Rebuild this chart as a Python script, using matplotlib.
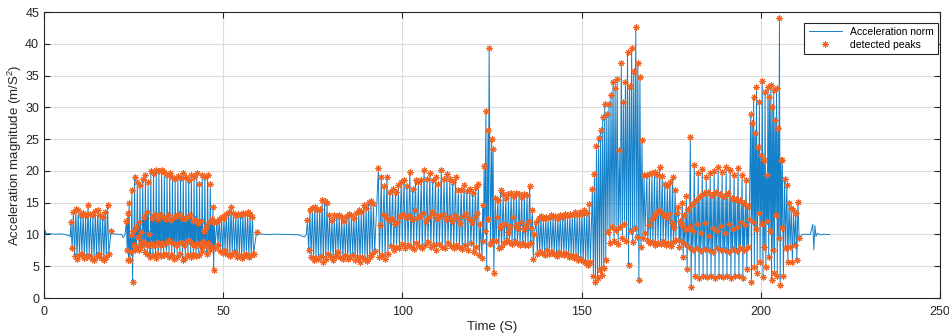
import numpy as np
import matplotlib
matplotlib.use('Agg')
import matplotlib.pyplot as plt

plt.rcParams['font.family'] = ['Liberation Sans', 'DejaVu Sans']
plt.rcParams['mathtext.default'] = 'regular'

# standing still: signal sits near g, no peaks marked
quiet_t = [0.0, 0.25, 0.6, 1.5, 3.0, 4.5, 6.0, 7.0, 7.3, 19.2, 20.5, 21.6, 22.1, 22.6,
           59.8, 62.0, 65.0, 68.0, 71.0, 72.6, 73.2, 211.5, 212.5, 213.8, 214.5, 214.8,
           215.1, 215.4, 215.8, 216.5, 217.5, 218.5, 219.2]
quiet_v = [0.0, 10.7, 10.1, 10.15, 10.05, 10.1, 10.0, 9.8, 9.6, 10.1, 10.05, 10.0, 9.5, 10.0,
           10.1, 10.0, 10.05, 10.0, 9.95, 9.6, 10.0, 10.0, 10.05, 10.0, 11.6, 7.6,
           11.4, 9.7, 10.2, 9.95, 10.05, 10.0, 10.0]

# bout A
A_hi = [12.0, 13.5, 14.0, 13.8, 13.1, 13.4, 13.0, 14.6, 13.2, 13.0, 13.7, 13.9, 13.1, 12.8, 13.6, 14.7]
A_lo = [7.8, 6.6, 6.2, 6.7, 6.9, 6.3, 6.5, 6.8, 6.2, 6.0, 6.6, 6.9, 6.3, 6.0, 6.4, 7.0]

# bout B
B_hi = [12.1, 14.9, 17.0, 19.1, 18.3, 17.8, 18.8, 19.3, 18.3, 20.0, 19.6, 20.1, 20.0, 20.1, 19.9, 19.3, 19.6,
        19.1, 18.8, 19.2, 18.9, 19.7, 19.1, 18.6, 19.4, 19.0, 19.6, 17.9, 19.3, 19.0, 19.3, 18.0, 14.4]
B_lo1 = [7.5, 6.0, 2.6, 7.5, 9.6, 8.7, 9.0, 8.5, 8.2, 8.6, 8.3, 8.8, 8.4, 8.7, 8.5, 8.9, 9.0,
         8.6, 8.3, 8.7, 8.8, 8.4, 8.9, 9.1, 8.5, 8.2, 8.6, 8.3, 8.9, 8.4, 8.7, 8.1, 4.4]
B_mid = [13.4, 9.9, 10.6, 11.2, 11.9, 10.4, 12.8, 13.6, 10.0, 12.6, 13.2, 12.4, 13.0, 12.8, 12.5, 13.1, 12.3,
         12.7, 12.9, 13.2, 12.6, 12.4, 12.8, 13.0, 12.1, 12.5, 11.8, 12.2, 10.5, 11.2, 11.9, 12.4, 12.0]
B_lo2 = [6.0, 7.2, 8.4, 8.0, 7.6, 8.2, 7.3, 7.0, 6.5, 6.8, 6.3, 6.9, 6.6, 6.7, 7.0, 6.4, 6.8,
         6.2, 6.5, 6.9, 6.0, 6.3, 6.7, 6.4, 7.0, 6.6, 6.8, 7.4, 8.2, 6.9, 7.6, 8.0, 7.8]

# bout C
C_hi = [12.0, 12.4, 12.8, 12.6, 13.3, 13.6, 14.3, 13.4, 13.0, 13.3, 13.1, 13.4, 13.2, 13.5, 13.3, 12.8]
C_lo = [8.3, 7.4, 7.1, 7.6, 7.0, 6.6, 6.9, 7.2, 6.5, 6.8, 6.3, 6.6, 6.9, 6.4, 6.7, 7.0]

# bout D
D_hi = [12.3, 13.8, 14.1, 14.4, 13.8, 14.0, 15.4, 15.3, 14.9, 13.0, 12.3, 13.1, 12.9, 13.0,
        12.7, 12.2, 12.9, 13.3, 13.0, 12.6, 13.4, 13.8, 13.5, 14.6, 14.2, 15.1, 15.2, 14.8]
D_lo = [7.5, 6.5, 6.0, 6.3, 6.1, 6.6, 5.6, 6.2, 6.9, 6.4, 6.0, 6.6, 7.3, 6.5,
        6.2, 6.7, 6.1, 6.4, 6.8, 6.0, 6.3, 5.7, 6.5, 6.2, 5.8, 6.4, 6.9, 7.4]

# bout E, before the spike
E1_hi = [20.4, 19.1, 17.6, 19.1, 16.7, 17.2, 16.7, 17.8, 18.3, 18.6, 17.6, 19.9, 17.2, 18.6, 18.3, 18.6, 20.2, 18.8,
         19.6, 18.6, 19.1, 18.0, 20.2, 18.8, 19.5, 18.8, 18.3, 19.1, 17.0, 17.0, 17.8, 16.9, 17.1, 16.5, 17.4, 18.0]
E1_lo = [6.4, 6.8, 6.2, 7.0, 8.2, 7.6, 8.0, 7.8, 8.5, 7.9, 8.3, 8.1, 7.7, 8.6, 8.2, 7.9, 8.4, 8.8,
         8.0, 8.3, 7.6, 8.5, 8.1, 7.8, 8.7, 8.2, 7.9, 8.4, 8.0, 7.7, 8.3, 7.5, 8.6, 7.2, 8.0, 6.8]
E1_mid = [11.5, 13.2, 12.8, 12.3, 12.5, 11.6, 12.0, 12.9, 13.3, 12.7, 13.1, 12.4, 13.8, 12.6, 12.9, 13.4, 12.2, 12.8,
          13.6, 13.0, 12.5, 12.9, 13.3, 12.4, 12.8, 12.1, 13.0, 12.6, 11.8, 12.9, 13.2, 12.4, 11.9, 12.7, 13.4, 11.6]

# the spike around 124 s
spike_t = [122.2, 122.4, 122.6, 122.8, 123.05, 123.3, 123.5, 123.9, 124.0, 124.2, 124.55, 124.9, 125.1, 125.3, 125.5]
spike_v = [6.3, 14.6, 9.0, 20.8, 10.5, 29.4, 4.8, 26.5, 12.4, 39.4, 8.5, 25.1, 9.0, 23.4, 4.0]

# bout E, after the spike
E2_hi = [15.7, 15.4, 17.0, 16.3, 15.7, 16.3, 16.5, 16.0, 16.5, 16.3, 15.9, 16.4, 16.2, 17.7, 13.8]
E2_lo = [8.9, 7.8, 8.1, 8.6, 9.1, 8.8, 8.5, 8.9, 8.6, 8.3, 8.7, 8.4, 8.3, 8.6, 6.2]
E2_mid = [12.8, 11.2, 11.5, 11.7, 10.4, 11.2, 12.8, 11.5, 11.0, 11.9, 10.8, 11.4, 12.1, 11.0, 10.0]

# bout F
F_hi = [12.0, 12.6, 12.9, 12.5, 12.8, 12.6, 13.0, 12.7, 12.9, 12.6, 13.1, 12.8,
        13.3, 12.9, 13.2, 13.0, 13.5, 13.1, 13.6, 13.3, 13.8, 13.4, 14.8]
F_lo = [7.0, 7.3, 7.1, 6.8, 7.5, 6.9, 7.2, 7.0, 6.6, 7.3, 6.9, 6.7,
        7.1, 6.5, 6.8, 6.3, 6.6, 6.0, 6.2, 5.8, 5.5, 5.2, 5.6]

# bout G (running)
G_hi = [17.1, 19.5, 24.0, 25.2, 26.5, 28.5, 30.5, 29.0, 30.5, 31.9, 34.0, 33.0, 34.4,
        23.3, 37.0, 30.8, 34.0, 38.7, 33.3, 39.3, 35.8, 42.6, 37.0, 34.8, 24.8, 19.3]
G_lo = [3.5, 2.6, 3.1, 4.4, 3.6, 4.8, 6.0, 10.4, 8.6, 11.2, 9.0, 10.7, 8.5,
        11.2, 9.4, 11.7, 9.0, 5.2, 10.5, 8.8, 11.0, 9.6, 2.8, 8.0, 9.5, 10.2]

# bout H
H_hi = [19.3, 19.5, 19.6, 19.9, 19.4, 20.6, 19.2, 18.0, 17.6, 18.3, 19.1, 17.0]
H_lo = [9.0, 8.6, 8.8, 8.3, 8.7, 8.5, 8.9, 8.4, 8.6, 8.2, 8.8, 9.2]
H_mid = [11.5, 12.3, 12.9, 13.4, 13.8, 13.5, 13.0, 12.6, 13.2, 11.8, 11.2, 13.4]

# bout I
I_hi = [14.4, 14.9, 16.0, 25.4, 20.9, 19.7, 20.3, 19.1, 19.7, 20.0, 20.6, 19.8, 20.6, 20.2, 19.4, 20.4, 19.3, 18.6]
I_bot = [8.0, 6.5, 4.5, 1.8, 3.4, 3.2, 3.5, 3.3, 3.4, 3.2, 3.5, 3.3, 3.4, 3.2, 3.5, 3.4, 3.1, 4.5]
I_up = [12.2, 13.0, 14.0, 14.8, 15.4, 16.0, 16.5, 16.7, 16.2, 16.7, 16.4, 16.0, 16.5, 15.8, 15.6, 15.4, 15.0, 14.5]
I_low = [9.0, 8.5, 8.0, 7.6, 7.8, 7.4, 7.7, 7.5, 7.3, 7.8, 7.5, 7.6, 7.3, 7.7, 7.4, 7.8, 7.6, 8.0]
I_mid = [11.5, 10.8, 11.2, 10.5, 11.6, 10.2, 11.8, 9.8, 11.0, 10.6, 11.4, 10.3, 11.7, 10.9, 11.2, 12.0, 11.5, 12.5]

# bout J (running)
J_hi = [29.0, 31.7, 33.2, 30.9, 34.2, 32.5, 33.2, 33.5, 32.7, 33.0, 44.0]
J_lo1 = [2.6, 4.9, 4.0, 5.7, 3.3, 4.9, 6.5, 2.8, 4.0, 3.5, 2.0]
J_mid = [27.5, 25.9, 23.8, 22.5, 21.7, 19.3, 31.7, 30.1, 28.0, 26.7, 21.7]
J_lo2 = [12.0, 10.8, 13.4, 11.6, 8.0, 12.1, 10.5, 7.5, 13.0, 9.5, 11.0]

# bout K (slowing down)
K_hi = [21.7, 18.8, 17.8, 14.9, 14.1, 13.8, 13.4, 15.1]
K_lo = [3.4, 7.8, 5.7, 8.1, 5.7, 8.3, 6.0, 9.4]

# single peaks at the end of bouts
lone_t = [18.7, 59.3]
lone_v = [10.5, 10.4]

bouts = [
    (7.5, 18.4, [A_hi, A_lo]),
    (23.0, 47.9, [B_hi, B_lo1, B_mid, B_lo2]),
    (48.2, 58.8, [C_hi, C_lo]),
    (73.5, 92.6, [D_hi, D_lo]),
    (93.3, 122.0, [E1_hi, E1_lo, E1_mid]),
    (125.9, 137.0, [E2_hi, E2_lo, E2_mid]),
    (137.3, 152.8, [F_hi, F_lo]),
    (153.0, 168.0, [G_hi, G_lo]),
    (168.2, 176.8, [H_hi, H_lo, H_mid]),
    (177.0, 197.0, [I_hi, I_bot, I_up, I_low, I_mid]),
    (197.2, 206.0, [J_hi, J_lo1, J_mid, J_lo2]),
    (206.0, 211.0, [K_hi, K_lo]),
]


def bout_points(t0, t1, bands):
    n = min(len(b) for b in bands)
    k = len(bands)
    dt = (t1 - t0) / n
    t, v = [], []
    for i in range(n):
        for j in range(k):
            t.append(t0 + (i + j / k) * dt)
            v.append(bands[j][i])
    return t, v


peak_t = list(spike_t) + list(lone_t)
peak_v = list(spike_v) + list(lone_v)
for t0, t1, bands in bouts:
    bt, bv = bout_points(t0, t1, bands)
    peak_t += bt
    peak_v += bv

all_t = np.array(quiet_t + peak_t)
all_v = np.array(quiet_v + peak_v)
order = np.argsort(all_t, kind='stable')

fig = plt.figure(figsize=(9.49, 3.36), dpi=100)
ax = fig.add_axes([0.0464, 0.113, 0.9441, 0.851])

ax.plot(all_t[order], all_v[order], color='#1480C8', lw=0.7, label='Acceleration norm', zorder=2)
ax.plot(peak_t, peak_v, ls='none', marker=(8, 2, 0), ms=4.5, mec='#F26322', mew=0.75,
        label='detected peaks', zorder=3)

ax.set_xlim(0, 250)
ax.set_ylim(0, 45)
ax.set_xticks(np.arange(0, 251, 50))
ax.set_yticks(np.arange(0, 46, 5))
ax.grid(True, color='#DCDCDC', lw=0.8)
ax.set_axisbelow(True)
ax.tick_params(direction='in', top=True, right=True, length=4, width=0.8,
               colors='#262626', labelsize=9)
ax.tick_params(axis='x', pad=6)
for s in ax.spines.values():
    s.set_color('#262626')
    s.set_linewidth(0.8)

ax.set_xlabel('Time (S)', fontsize=9.5, color='#262626', labelpad=2)
ax.set_ylabel('Acceleration magnitude (m/S$^2$)', fontsize=9.5, color='#262626', labelpad=1)

leg = ax.legend(loc='upper right', bbox_to_anchor=(0.998, 0.963), fontsize=7.5,
                fancybox=False, framealpha=1, edgecolor='#262626', borderaxespad=0,
                handlelength=3.2, borderpad=0.4, labelspacing=0.3)
leg.get_frame().set_linewidth(0.8)

fig.savefig('out.png', dpi=100)
